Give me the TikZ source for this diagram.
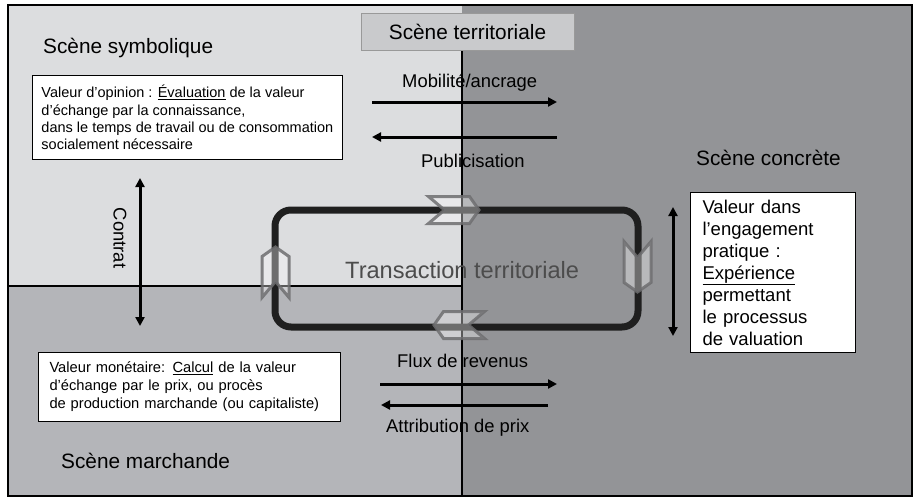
\documentclass[tikz,border=0pt]{standalone}
\usepackage{fontspec}
\setmainfont{Liberation Sans}
\usetikzlibrary{arrows.meta}
\definecolor{symbgray}{HTML}{DCDDDF}
\definecolor{marchgray}{HTML}{B4B5B9}
\definecolor{concgray}{HTML}{939497}
\definecolor{terrgray}{HTML}{C9CACC}
\definecolor{chevgray}{HTML}{6E6E70}

\begin{document}
\begin{tikzpicture}[x=1pt,y=-1pt,
	scene/.style={anchor=base west,inner sep=0,font=\fontsize{20.8}{24}\selectfont},
	flow/.style={anchor=base west,inner sep=0,font=\fontsize{18.4}{22}\selectfont},
	valbox/.style={draw=black,fill=white,line width=1pt,anchor=north west,align=left},
	arr/.style={line width=3pt,-{Triangle[length=9pt,width=9pt]}},
	darr/.style={line width=3pt,{Triangle[length=9pt,width=9pt]}-{Triangle[length=9pt,width=9pt]}},
	chevron/.pic={\draw[draw=chevgray,draw opacity=0.85,line width=3pt,fill=white,fill opacity=0.35]
		(-25,-13.5) -- (16,-13.5) -- (25.5,0) -- (16,13.5) -- (-25,13.5) -- (-9,0) -- cycle;}]
\useasboundingbox (0,0) rectangle (916,498);
% the four scenes
\fill[symbgray] (8,5) rectangle (462,286);
\fill[marchgray] (8,286) rectangle (462,496);
\fill[concgray] (462,5) rectangle (912,496);
\draw[line width=2pt] (462,50) -- (462,496);
\draw[line width=2pt] (8,286) -- (462,286);
\node [draw=gray!80,fill=terrgray,minimum width=213pt,minimum height=37pt,inner sep=0,
	font=\fontsize{20.8}{24}\selectfont] (terr) at (467.5,31.5) {Sc\`ene territoriale};
% transaction loop
\node [draw=black!88,line width=7pt,rounded corners=16pt,minimum width=363pt,minimum height=117pt] (loop) at (456.5,268.5) {};
\pic at (453.5,210) {chevron};
\pic [rotate=-90] at (637.5,266.5) {chevron};
\pic [rotate=180] at (459.5,325) {chevron};
\pic [rotate=90] at (275.5,272.5) {chevron};
\node [anchor=base west,inner sep=0,text=black!70,font=\fontsize{23.6}{28}\selectfont] (trans) at (345,278) {Transaction territoriale};
% scene titles
\node [scene] (symb) at (43,53) {Sc\`ene symbolique};
\node [scene] (conc) at (696,165) {Sc\`ene concr\`ete};
\node [scene] (march) at (61,468) {Sc\`ene marchande};
% flows
\node [flow] (mob) at (402,87) {Mobilité/ancrage};
\node [flow] (pub) at (421,167) {Publicisation};
\node [flow] (flux) at (397,367) {Flux de revenus};
\node [flow] (prix) at (386,432) {Attribution de prix};
\node [flow,anchor=center,rotate=-90] (contrat) at (120,238) {Contrat};
\coordinate (mobA) at (372,102); \coordinate (mobB) at (557,102);
\coordinate (pubA) at (557,137); \coordinate (pubB) at (372,137);
\coordinate (fluxA) at (380,384); \coordinate (fluxB) at (557,384);
\coordinate (prixA) at (548,405); \coordinate (prixB) at (381,405);
\coordinate (conA) at (140,178); \coordinate (conB) at (140,326);
\coordinate (expA) at (673,207); \coordinate (expB) at (673,336);
\draw[arr] (mobA) -- (mobB);
\draw[arr] (pubA) -- (pubB);
\draw[arr] (fluxA) -- (fluxB);
\draw[arr] (prixA) -- (prixB);
\draw[darr] (conA) -- (conB);
\draw[darr] (expA) -- (expB);
% values
\node [valbox,inner xsep=9pt,minimum height=84pt,font=\fontsize{14.5}{17.3}\selectfont] (opinion) at (32,75)
	{Valeur d’opinion : \underline{Évaluation} de la valeur\\ d’échange par la connaissance,\\ dans le temps de travail ou de consommation\\ socialement nécessaire};
\node [valbox,text width=280pt,inner xsep=11pt,minimum height=69pt,font=\fontsize{14.7}{18}\selectfont] (monet) at (38,352)
	{Valeur monétaire: \underline{Calcul} de la valeur\\ d’échange par le prix, ou procès\\ de production marchande (ou capitaliste)};
\node [valbox,text width=141pt,inner xsep=12pt,minimum height=160pt,font=\fontsize{18.5}{22}\selectfont] (engag) at (690,192)
	{Valeur dans\\ l’engagement\\ pratique :\\ \underline{Expérience}\\ permettant\\ le processus\\ de valuation};
\draw[line width=2.5pt] (8,5) rectangle (912,496);
\end{tikzpicture}
\end{document}
